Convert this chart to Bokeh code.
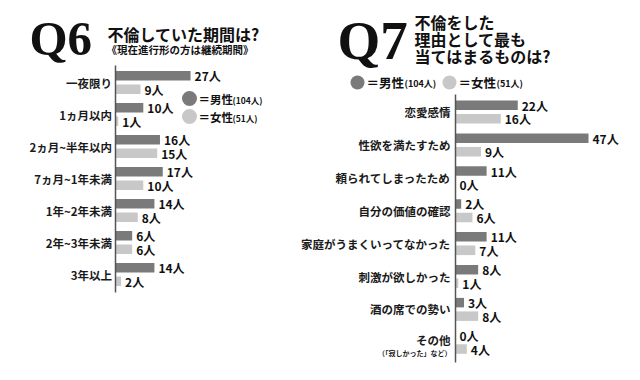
from bokeh.plotting import figure
from bokeh.models import Range1d
from bokeh.embed import file_html
from bokeh.resources import INLINE
from bokeh.core.properties import value

# ---------------- data ----------------
q6_categories = ["一夜限り", "1ヵ月以内", "2ヵ月~半年以内", "7ヵ月~1年未満",
                 "1年~2年未満", "2年~3年未満", "3年以上"]
q6_male = [27, 10, 16, 17, 14, 6, 14]
q6_female = [9, 1, 15, 10, 8, 6, 2]

q7_categories = ["恋愛感情", "性欲を満たすため", "頼られてしまったため", "自分の価値の確認",
                 "家庭がうまくいってなかった", "刺激が欲しかった", "酒の席での勢い", "その他"]
q7_note = "（「寂しかった」など）"
q7_male = [22, 47, 11, 2, 11, 8, 3, 0]
q7_female = [16, 9, 0, 6, 7, 1, 8, 4]

unit = "人"
male_total = "(104人)"
female_total = "(51人)"

# ---------------- style ----------------
MALE = "#7a7a7a"
FEMALE = "#c8c8c8"
JP = value("Noto Sans CJK JP")
SERIF = value("Liberation Serif")

W, H = 624, 364
p = figure(width=W, height=H, output_backend="svg", toolbar_location=None,
           x_range=Range1d(0, W), y_range=Range1d(H, 0),
           x_axis_location=None, y_axis_location=None, min_border=0)
p.grid.visible = False
p.outline_line_color = None
p.background_fill_color = "white"
p.border_fill_color = "white"

# panel scales (counts -> pixels) through named ranges
L_AXIS, L_PX = 115, 2.78
L_C0, L_STEP = 82, 32.0
R_AXIS, R_PX = 455, 2.83
R_C0, R_STEP = 111.5, 32.9

p.extra_x_ranges = {
    "L": Range1d((0 - L_AXIS) / L_PX, (W - L_AXIS) / L_PX),
    "R": Range1d((0 - R_AXIS) / R_PX, (W - R_AXIS) / R_PX),
}
p.extra_y_ranges = {
    "Ly": Range1d((H - L_C0) / L_STEP, (0 - L_C0) / L_STEP),
    "Ry": Range1d((H - R_C0) / R_STEP, (0 - R_C0) / R_STEP),
}


def panel(cats, male, female, xr, yr, step):
    n = len(cats)
    off = 6.75 / step
    bh = 9.5 / step
    ym = [i - off for i in range(n)]
    yf = [i + off for i in range(n)]
    p.hbar(y=ym, left=0, right=male, height=bh, fill_color=MALE, line_color=None,
           x_range_name=xr, y_range_name=yr)
    p.hbar(y=yf, left=0, right=female, height=bh, fill_color=FEMALE, line_color=None,
           x_range_name=xr, y_range_name=yr)
    p.text(x=male, y=ym, text=[f"{v}{unit}" for v in male], x_offset=4,
           text_font=JP, text_font_style="bold", text_font_size="12px",
           text_baseline="middle", text_color="#111111",
           x_range_name=xr, y_range_name=yr)
    p.text(x=female, y=yf, text=[f"{v}{unit}" for v in female], x_offset=4,
           text_font=JP, text_font_style="bold", text_font_size="12px",
           text_baseline="middle", text_color="#111111",
           x_range_name=xr, y_range_name=yr)
    return n


# ---------- Q6 ----------
n6 = panel(q6_categories, q6_male, q6_female, "L", "Ly", L_STEP)
p.text(x=[0] * n6, y=list(range(n6)), text=q6_categories, x_offset=-3.5,
       text_font=JP, text_font_style="bold", text_font_size="11.5px",
       text_align="right", text_baseline="middle", text_color="#1a1a1a",
       x_range_name="L", y_range_name="Ly")
p.segment(x0=[L_AXIS], y0=[65], x1=[L_AXIS], y1=[292], line_color="#555555", line_width=1.5)

p.text(x=[29], y=[38], text=["Q6"], text_font=SERIF, text_font_style="bold",
       text_font_size="49px", text_baseline="middle", text_color="#111111")
p.text(x=[107], y=[33], text=["不倫していた期間は?"], text_font=JP, text_font_style="bold",
       text_font_size="16px", text_baseline="middle", text_color="#111111")
p.text(x=[106], y=[49], text=["《現在進行形の方は継続期間》"], text_font=JP, text_font_style="bold",
       text_font_size="10.5px", text_baseline="middle", text_color="#111111")

# legend Q6
p.scatter(x=[189, 189], y=[98, 116], size=15, fill_color=[MALE, FEMALE], line_color=None)
p.text(x=[198, 198], y=[98, 116], text=["＝男性", "＝女性"], text_font=JP, text_font_style="bold",
       text_font_size="11.5px", text_baseline="middle", text_color="#111111")
p.text(x=[232, 232], y=[99, 117], text=[male_total, female_total], text_font=JP,
       text_font_style="bold", text_font_size="8.5px", text_baseline="middle", text_color="#111111")

# ---------- Q7 ----------
n7 = panel(q7_categories, q7_male, q7_female, "R", "Ry", R_STEP)
main_y = list(range(n7 - 1)) + [n7 - 1 - 2 / R_STEP]
p.text(x=[0] * n7, y=main_y, text=q7_categories, x_offset=-5,
       text_font=JP, text_font_style="bold", text_font_size="11.5px",
       text_align="right", text_baseline="middle", text_color="#1a1a1a",
       x_range_name="R", y_range_name="Ry")
p.text(x=[0], y=[n7 - 1 + 11 / R_STEP], text=[q7_note], x_offset=-4,
       text_font=JP, text_font_style="bold", text_font_size="7px",
       text_align="right", text_baseline="middle", text_color="#1a1a1a",
       x_range_name="R", y_range_name="Ry")
p.segment(x0=[R_AXIS], y0=[94], x1=[R_AXIS], y1=[362], line_color="#555555", line_width=1.5)

p.text(x=[337], y=[40], text=["Q7"], text_font=SERIF, text_font_style="bold",
       text_font_size="55px", text_baseline="middle", text_color="#111111")
p.text(x=[414, 414, 414], y=[21, 38, 55],
       text=["不倫をした", "理由として最も", "当てはまるものは?"], text_font=JP,
       text_font_style="bold", text_font_size="16px", text_baseline="middle", text_color="#111111")

# legend Q7
p.scatter(x=[357, 449], y=[82, 82], size=14, fill_color=[MALE, FEMALE], line_color=None)
p.text(x=[366, 458], y=[82, 82], text=["＝男性", "＝女性"], text_font=JP, text_font_style="bold",
       text_font_size="12.5px", text_baseline="middle", text_color="#111111")
p.text(x=[404, 496], y=[83, 83], text=[male_total, female_total], text_font=JP,
       text_font_style="bold", text_font_size="9px", text_baseline="middle", text_color="#111111")

open("out.html", "w").write(file_html(p, INLINE))
